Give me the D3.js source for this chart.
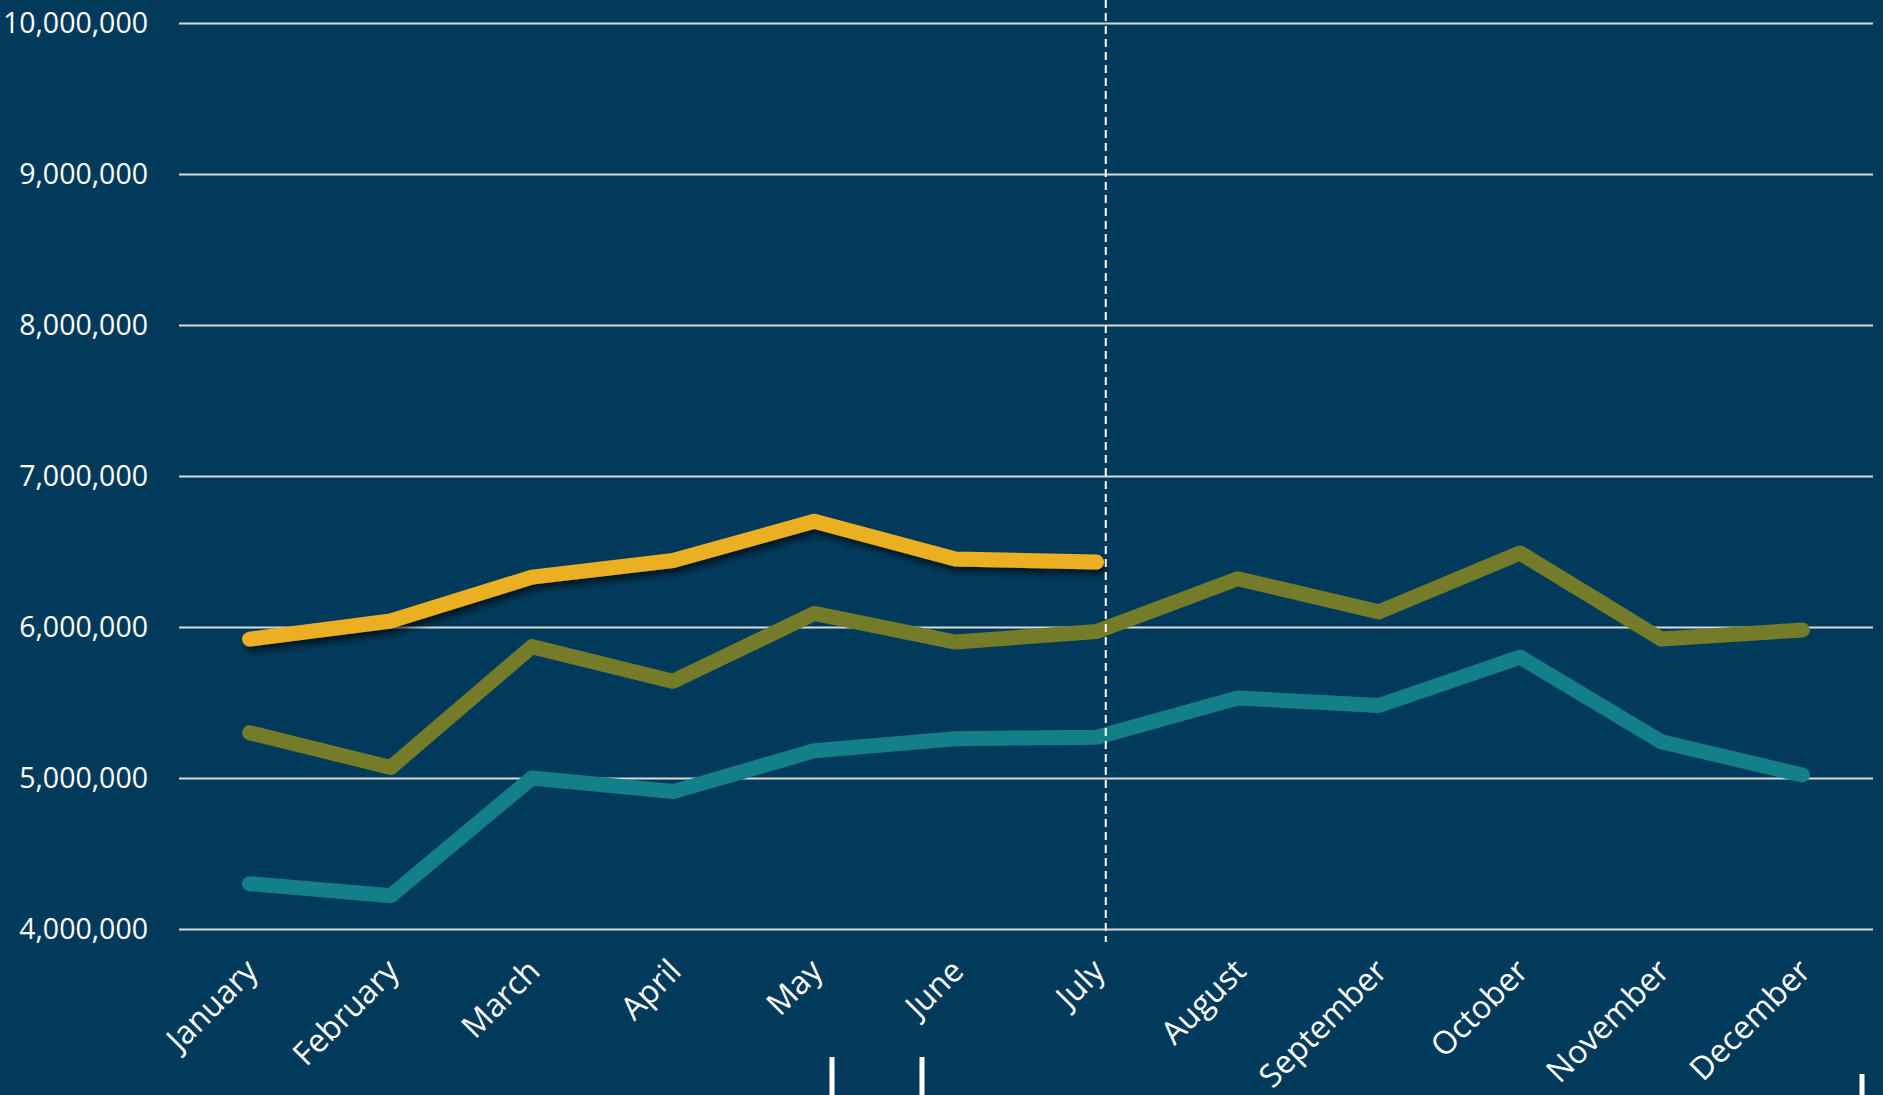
<!DOCTYPE html>
<html>
<head>
<meta charset="utf-8">
<script src="https://cdn.jsdelivr.net/npm/d3@7"></script>
<style>
  html, body { margin: 0; padding: 0; background: #023a5c; overflow: hidden; }
  svg { display: block; }
  text { font-family: "Open Sans", "Noto Sans", sans-serif; fill: #ffffff; }
</style>
</head>
<body>
<svg id="chart" width="1883" height="1095"></svg>
<script>
const months = ["January","February","March","April","May","June","July","August","September","October","November","December"];
const yTicks = [4000000, 5000000, 6000000, 7000000, 8000000, 9000000, 10000000];
const seriesGold  = [5920000, 6040000, 6330000, 6440000, 6700000, 6450000, 6430000];
const seriesOlive = [5300000, 5070000, 5870000, 5640000, 6090000, 5900000, 5970000, 6320000, 6100000, 6490000, 5920000, 5980000];
const seriesTeal  = [4300000, 4220000, 5000000, 4910000, 5180000, 5260000, 5270000, 5530000, 5480000, 5800000, 5240000, 5020000];
const markerMonth = "July";

const W = 1883, H = 1095;
const svg = d3.select("#chart");
svg.append("rect").attr("width", W).attr("height", H).attr("fill", "#023a5c");

const defs = svg.append("defs");
const f = defs.append("filter").attr("id", "shadow").attr("x", "-10%").attr("y", "-50%").attr("width", "120%").attr("height", "200%");
f.append("feDropShadow").attr("dx", 3).attr("dy", 5).attr("stdDeviation", 3.5)
  .attr("flood-color", "#000000").attr("flood-opacity", 0.65);

const x = d3.scaleBand().domain(months).range([179, 1873]);
const y = d3.scaleLinear().domain([4000000, 10000000]).range([929, 23]);
const cx = m => x(m) + x.bandwidth() / 2;

// Gridlines + y labels
const yAxis = d3.axisLeft(y).tickValues(yTicks).tickSize(-(1873 - 179)).tickPadding(31)
  .tickFormat(d3.format(",d"));
const gy = svg.append("g").attr("transform", "translate(179,0)").call(yAxis);
gy.select(".domain").remove();
gy.selectAll(".tick line").attr("stroke", "#d9d9d9").attr("stroke-width", 2);
gy.selectAll(".tick text").attr("fill", "#ffffff").style("font-size", "28.5px")
  .style("font-family", "'Open Sans', sans-serif");

// x labels
const xAxis = d3.axisBottom(x).tickSize(0).tickPadding(0);
const gx = svg.append("g").attr("transform", "translate(0,929)").call(xAxis);
gx.select(".domain").remove();
gx.selectAll(".tick text")
  .attr("fill", "#ffffff").style("font-size", "32px")
  .style("font-family", "'Open Sans', sans-serif")
  .attr("text-anchor", "end")
  .attr("dy", null)
  .attr("y", 0)
  .attr("transform", "translate(10,44) rotate(-45)");

// lines
const line = d3.line().x((d, i) => cx(months[i])).y(d => y(d)).curve(d3.curveLinear);
function drawLine(data, color, shadow) {
  const p = svg.append("path").datum(data)
    .attr("d", line).attr("fill", "none").attr("stroke", color)
    .attr("stroke-width", 15).attr("stroke-linecap", "round").attr("stroke-linejoin", "round");
  if (shadow) p.attr("filter", "url(#shadow)");
}
drawLine(seriesTeal, "#138088", false);
drawLine(seriesOlive, "#747c29", false);
drawLine(seriesGold, "#ebb020", true);

// reference dashed line
const mx = cx(markerMonth) + x.bandwidth() * 0.065;
svg.append("line").attr("x1", mx).attr("x2", mx).attr("y1", 0).attr("y2", 942)
  .attr("stroke", "#ffffff").attr("stroke-width", 2).attr("stroke-dasharray", "8,5");

// bottom cut-off marks
const marks = [[832, 1057], [922, 1057], [1862, 1074]];
svg.selectAll(".mark").data(marks).enter().append("rect")
  .attr("x", d => d[0] - 2.5).attr("y", d => d[1]).attr("width", 5).attr("height", d => H - d[1])
  .attr("fill", "#ffffff");
</script>
</body>
</html>
